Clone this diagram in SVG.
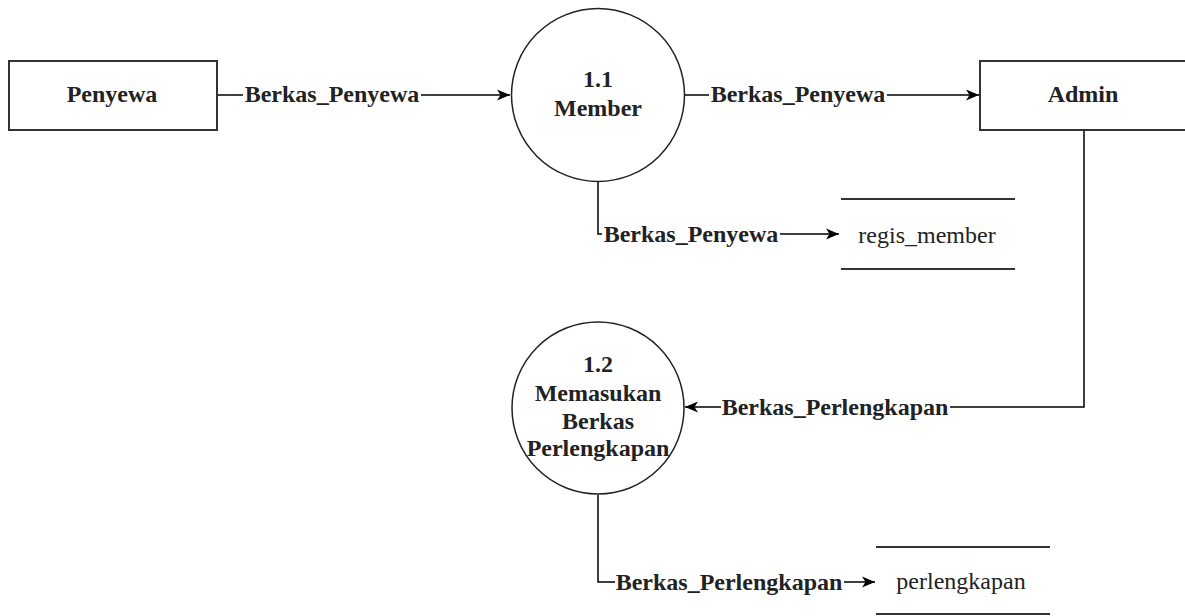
<svg xmlns="http://www.w3.org/2000/svg" width="1185" height="616" viewBox="0 0 1185 616">
<style>
.ent{fill:#fff;stroke:#333;stroke-width:2}
.proc{fill:#fff;stroke:#222;stroke-width:1.5}
.store{stroke:#333;stroke-width:2}
.edge{fill:none;stroke:#000;stroke-width:1.5}
text{font-family:'Liberation Serif','DejaVu Serif',serif;font-size:24px;fill:#222;text-anchor:middle}
.b{font-weight:bold}
.bg{fill:#fff}
</style>
<defs>
<marker id="arr" markerWidth="14" markerHeight="12" refX="13" refY="6" orient="auto" markerUnits="userSpaceOnUse">
<path d="M0,0.5 L13,6 L0,11.5 L3.5,6 Z" fill="#000"/>
</marker>
</defs>
<rect width="1185" height="616" fill="#fff"/>
<g id="connectors">
<path class="edge" d="M217,95 L510,95" marker-end="url(#arr)"/>
<path class="edge" d="M685,95 L979,95" marker-end="url(#arr)"/>
<path class="edge" d="M598,182 L598,234 L839,234" marker-end="url(#arr)"/>
<path class="edge" d="M1084,130 L1084,407 L685,407" marker-end="url(#arr)"/>
<path class="edge" d="M598,495 L598,582 L875,582" marker-end="url(#arr)"/>
<g id="edge-labels">
<rect class="bg" x="243" y="84" width="178" height="24"/>
<text class="b" x="332" y="102">Berkas_Penyewa</text>
<rect class="bg" x="709" y="84" width="178" height="24"/>
<text class="b" x="798" y="102">Berkas_Penyewa</text>
<rect class="bg" x="602" y="223" width="178" height="24"/>
<text class="b" x="691" y="242">Berkas_Penyewa</text>
<rect class="bg" x="721" y="396" width="229" height="24"/>
<text class="b" x="835" y="415">Berkas_Perlengkapan</text>
<rect class="bg" x="615" y="571" width="229" height="24"/>
<text class="b" x="729" y="590">Berkas_Perlengkapan</text>
</g>
</g>
<g id="penyewa">
<rect class="ent" x="9" y="61" width="208" height="69"/>
<text class="b" x="112" y="102">Penyewa</text>
</g>
<g id="admin">
<rect class="ent" x="980" y="61" width="215" height="69"/>
<text class="b" x="1083" y="102">Admin</text>
</g>
<g id="p11">
<circle class="proc" cx="598" cy="95" r="86.5"/>
<text class="b" x="598" y="87">1.1</text>
<text class="b" x="598" y="116">Member</text>
</g>
<g id="p12">
<circle class="proc" cx="598" cy="408" r="86"/>
<text class="b" x="598" y="372">1.2</text>
<text class="b" x="598" y="401">Memasukan</text>
<text class="b" x="598" y="429">Berkas</text>
<text class="b" x="598" y="456">Perlengkapan</text>
</g>
<g id="regis_member">
<line class="store" x1="841" y1="199" x2="1015" y2="199"/>
<line class="store" x1="841" y1="269" x2="1015" y2="269"/>
<text x="927" y="243">regis_member</text>
</g>
<g id="perlengkapan">
<line class="store" x1="876" y1="547" x2="1050" y2="547"/>
<line class="store" x1="876" y1="614" x2="1050" y2="614"/>
<text x="961" y="589">perlengkapan</text>
</g>
</svg>
